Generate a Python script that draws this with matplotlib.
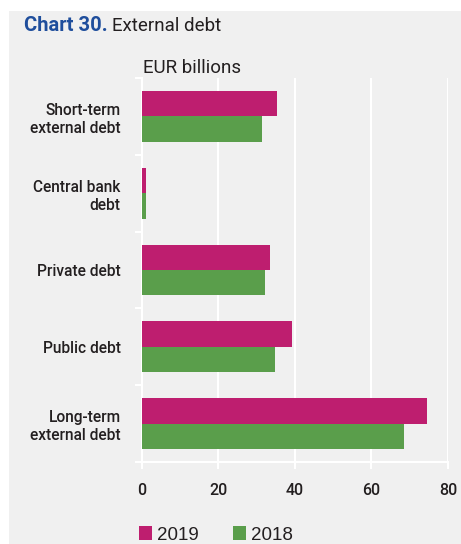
import matplotlib
matplotlib.use("Agg")
import matplotlib.pyplot as plt
import numpy as np
from matplotlib.patches import Patch, Rectangle

# External debt by type, EUR billions
categories = ["Short-term\nexternal debt", "Central bank\ndebt", "Private debt",
              "Public debt", "Long-term\nexternal debt"]
debt_2019 = [35.3, 1.0, 33.5, 39.3, 74.5]
debt_2018 = [31.4, 1.0, 32.1, 34.7, 68.5]
years = ["2019", "2018"]
xticks = [0, 20, 40, 60, 80]

BG = "#f0f0f0"
MAGENTA = "#be1e6f"
GREEN = "#5a9e4b"
TXT = "#231f20"
FONT = ["Roboto", "DejaVu Sans"]

fig = plt.figure(figsize=(4.61, 5.44), dpi=100, facecolor="white")
# grey panel behind everything, white strip on top and left
fig.patches.append(Rectangle((9 / 461, 0), 1, 1 - 11 / 544, transform=fig.transFigure,
                             facecolor=BG, edgecolor="none", zorder=-10))

ax = fig.add_axes([141.7 / 461, 1 - 462 / 544, (448 - 141.7) / 461, (462 - 78) / 544])
ax.set_facecolor(BG)

y = np.arange(len(categories))
h = 0.33
ax.barh(y - h / 2, debt_2019, height=h, color=MAGENTA, zorder=3)
ax.barh(y + h / 2, debt_2018, height=h, color=GREEN, zorder=3)

ax.set_ylim(len(categories) - 0.5, -0.5)
ax.set_xlim(0, 80)
ax.set_xticks(xticks)
ax.set_xticklabels([str(t) for t in xticks], family=FONT, fontsize=11.5,
                   fontweight="medium", color=TXT)

# labels centred on bars, ticks drawn on category boundaries
ax.set_yticks(y)
ax.set_yticklabels(categories, family=FONT, fontsize=11.2, fontweight="medium",
                   color=TXT, linespacing=1.25)
ax.tick_params(axis="y", which="major", length=0, pad=15)
ax.set_yticks(np.arange(-0.5, len(categories), 1), minor=True)
ax.tick_params(axis="y", which="minor", length=5, width=1.5, color="white")
ax.tick_params(axis="x", length=5, width=1.5, color="white", pad=10)

ax.grid(axis="x", color="white", linewidth=1.5, zorder=1)
for s in ["top", "right"]:
    ax.spines[s].set_visible(False)
for s in ["left", "bottom"]:
    ax.spines[s].set_color("white")
    ax.spines[s].set_linewidth(1.5)

t1 = fig.text(24 / 461, 1 - 31 / 544, "Chart 30.", family=FONT, fontsize=14.5,
              fontweight="bold", color="#1f4e9c", va="baseline")
fig.canvas.draw()
bb = t1.get_window_extent()
fig.text((bb.x1 + 4) / 461, 1 - 31 / 544, "External debt", family=FONT, fontsize=13.5,
         color=TXT, va="baseline")
fig.text(143 / 461, 1 - 73 / 544, "EUR billions", family=FONT, fontsize=13.5,
         color=TXT, va="baseline")

handles = [Patch(facecolor=MAGENTA, label=years[0]), Patch(facecolor=GREEN, label=years[1])]
fig.legend(handles=handles, loc="center", bbox_to_anchor=(216 / 461, 1 - 535 / 544),
           ncol=2, frameon=False, prop={"family": ["Liberation Sans", "DejaVu Sans"], "size": 13.5},
           handlelength=0.7, handleheight=0.7, handletextpad=0.25, columnspacing=1.85,
           labelcolor=TXT)

fig.savefig("out.png", dpi=100, facecolor="white")
